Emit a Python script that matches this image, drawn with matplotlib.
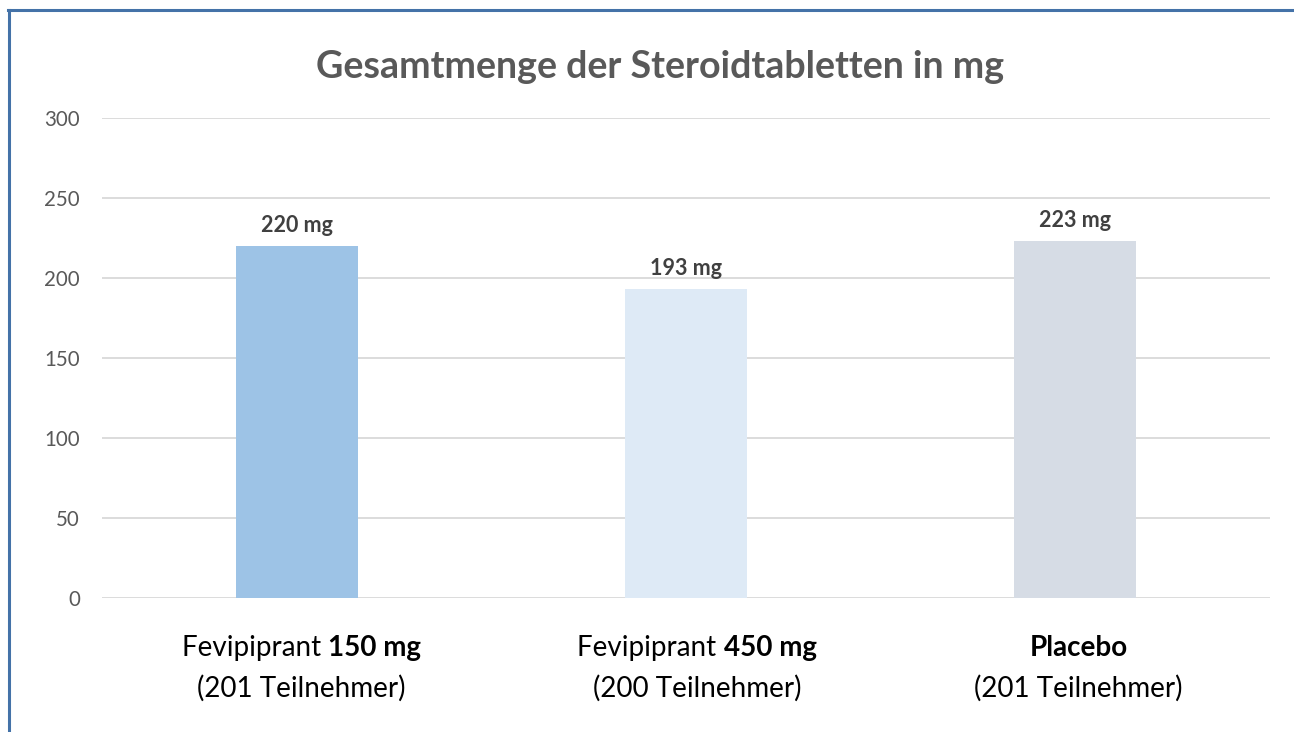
import matplotlib
matplotlib.use("Agg")
import matplotlib.pyplot as plt
from matplotlib.lines import Line2D

plt.rcParams['font.family'] = ['Lato', 'DejaVu Sans']

groups_name = ["Fevipiprant ", "Fevipiprant ", ""]
groups_dose = ["150 mg", "450 mg", "Placebo"]
participants = ["(201 Teilnehmer)", "(200 Teilnehmer)", "(201 Teilnehmer)"]
values = [220, 193, 223]
bar_colors = ["#9DC3E6", "#DEEAF6", "#D6DCE5"]
yticks = [0, 50, 100, 150, 200, 250, 300]

fig = plt.figure(figsize=(12.94, 7.32), dpi=100)
ax = fig.add_axes([102 / 1294, 1 - 598 / 732, 1168 / 1294, 480 / 732])

x = list(range(len(values)))
bars = ax.bar(x, values, width=0.314, color=bar_colors, zorder=3)
for xi, v in zip(x, values):
    ax.annotate(f"{v} mg", (xi, v), textcoords="offset points", xytext=(0, 7),
                ha="center", va="bottom", fontsize=15.5, fontweight="bold", color="#404040")

ax.set_xlim(-0.5, 2.5)
ax.set_ylim(0, 300)
ax.set_yticks(yticks)
ax.set_yticklabels([str(t) for t in yticks], fontsize=14.8, color="#595959")
ax.tick_params(axis="y", length=0, pad=16)
ax.set_xticks([])
ax.grid(True, axis="y", color="#D9D9D9", linewidth=1.3, zorder=0)
for s in ax.spines.values():
    s.set_visible(False)

fig.text(660 / 1294, 1 - 67 / 732, "Gesamtmenge der Steroidtabletten in mg", ha="center", va="center",
         fontsize=27.1, fontweight="bold", color="#595959")

# category labels with mixed bold text (slightly shifted right like the original text boxes)
label_shift_px = [5, 11, 3]
fig.canvas.draw()
renderer = fig.canvas.get_renderer()
for xi, name, dose, part, dx in zip(x, groups_name, groups_dose, participants, label_shift_px):
    xf = fig.transFigure.inverted().transform(ax.transData.transform((xi, 0)))[0] + dx / fig.bbox.width
    y1 = 1 - 648 / 732
    t1 = fig.text(xf, y1, name, ha="left", va="center", fontsize=20, color="black")
    t2 = fig.text(xf, y1, dose, ha="left", va="center", fontsize=20, fontweight="bold", color="black")
    w1 = t1.get_window_extent(renderer).width if name else 0
    w2 = t2.get_window_extent(renderer).width
    start = xf - (w1 + w2) / 2 / fig.bbox.width
    t1.set_x(start)
    t2.set_x(start + w1 / fig.bbox.width)
    fig.text(xf, 1 - 688 / 732, part, ha="center", va="center", fontsize=20, color="black")

# blue frame on left and top
frame_color = "#4472A8"
fig.add_artist(Line2D([9 / 1294, 9 / 1294], [0, 1 - 10 / 732], color=frame_color, linewidth=2.2,
                      transform=fig.transFigure))
fig.add_artist(Line2D([8 / 1294, 1], [1 - 10 / 732, 1 - 10 / 732], color=frame_color, linewidth=2.2,
                      transform=fig.transFigure))

fig.savefig("out.png", dpi=100)
